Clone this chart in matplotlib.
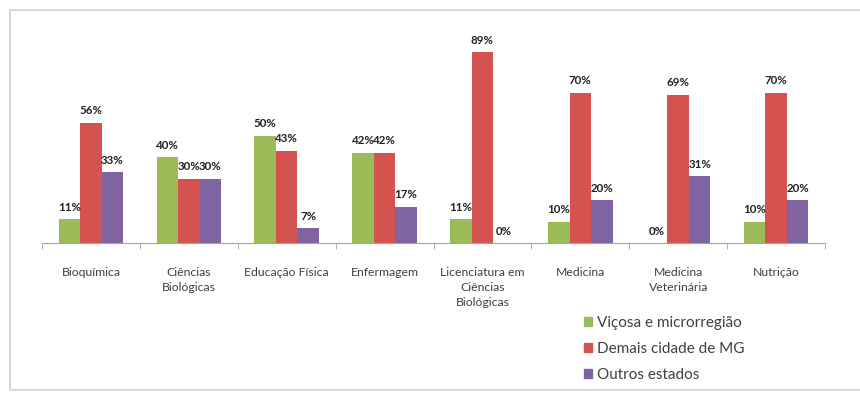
import numpy as np
import matplotlib.pyplot as plt
from matplotlib.patches import Patch, Rectangle

plt.rcParams['font.family'] = ['Lato', 'DejaVu Sans']

cursos = ["Bioquímica", "Ciências\nBiológicas", "Educação Física", "Enfermagem",
          "Licenciatura em\nCiências\nBiológicas", "Medicina", "Medicina\nVeterinária", "Nutrição"]
vicosa = [11, 40, 50, 42, 11, 10, 0, 10]
demais_mg = [56, 30, 43, 42, 89, 70, 69, 70]
outros = [33, 30, 7, 17, 0, 20, 31, 20]

series = [("Viçosa e microrregião", vicosa, "#9bbb59"),
          ("Demais cidade de MG", demais_mg, "#d4524f"),
          ("Outros estados", outros, "#8064a2")]

fig = plt.figure(figsize=(8.6, 3.96), dpi=100)
# moldura do gráfico
fig.patches.append(Rectangle((10 / 860, 6 / 396), 860, 380 / 396, transform=fig.transFigure,
                             fill=False, edgecolor="#d0d0d0", linewidth=1.2))

ax = fig.add_axes([42 / 860, 1 - 243 / 396, (825 - 42) / 860, (243 - 28.4) / 396])
x = np.arange(len(cursos))
w = 0.22
for i, (nome, vals, cor) in enumerate(series):
    pos = x + (i - 1) * w
    ax.bar(pos, vals, width=w, color=cor, label=nome)
    for p, v in zip(pos, vals):
        ax.text(p, v + 3, f"{v}%", ha="center", va="bottom", fontsize=8.3,
                fontweight="bold", color="#222222")

ax.set_xlim(-0.5, len(cursos) - 0.5)
ax.set_ylim(0, 100)
ax.set_yticks([])
for s in ["top", "right", "left"]:
    ax.spines[s].set_visible(False)
ax.spines["bottom"].set_color("#a0a0b0")
ax.set_xticks(x)
ax.set_xticklabels(cursos, fontsize=8.8, color="#404040", linespacing=1.45, va="top")
ax.tick_params(axis="x", which="major", length=0, pad=17)
ax.set_xticks(np.arange(len(cursos) + 1) - 0.5, minor=True)
ax.tick_params(axis="x", which="minor", length=4, color="#a0a0b0")

handles = [Patch(color=c, label=n) for n, _, c in series]
fig.legend(handles=handles, loc="upper left", bbox_to_anchor=(570 / 860, 1 - 302 / 396),
           frameon=False, fontsize=11, handlelength=0.55, handleheight=0.55,
           handletextpad=0.3, labelspacing=0.8, labelcolor="#404040")

fig.savefig("out.png", dpi=100)
